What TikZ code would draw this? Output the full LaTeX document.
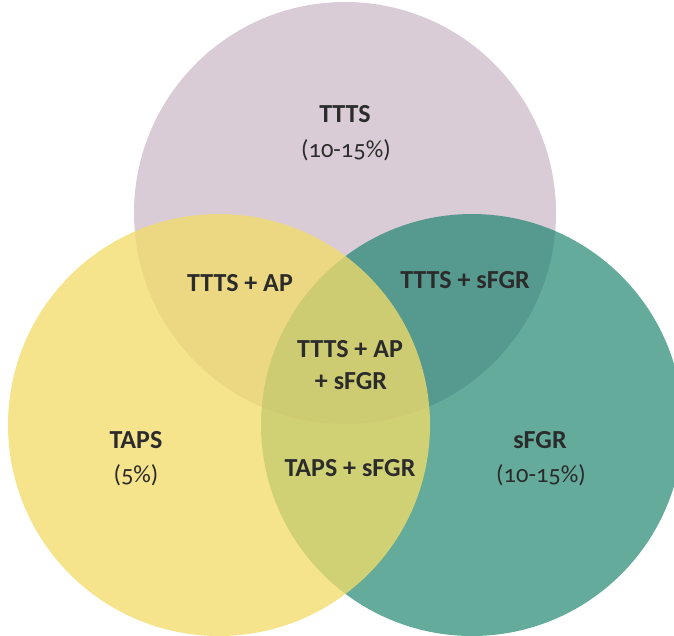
\documentclass[tikz,border=0pt]{standalone}
\usepackage{fontspec}
\setmainfont{Carlito}[Numbers=OldStyle]
\definecolor{mauve}{HTML}{D9CCD6}
\definecolor{teal}{RGB}{19,128,105}
\definecolor{sun}{RGB}{242,220,106}
\definecolor{ink}{HTML}{2B2B2B}
\tikzset{
    venn/.style = {circle, minimum size = 422pt, inner sep = 0pt},
    lbl/.style = {text = ink, font = \fontsize{26}{30}\selectfont\bfseries},
    pct/.style = {text = ink, font = \fontsize{24.5}{28}\selectfont}
}

\begin{document}
\begin{tikzpicture}[x = 1pt, y = -1pt]
    \useasboundingbox (0, 0) rectangle (674, 636);

    \node[venn, fill = mauve] (ttts) at (345, 213) {};
    \node[venn, fill = teal, fill opacity = 0.66] (sfgr) at (472, 425) {};
    \node[venn, fill = sun, fill opacity = 0.77] (taps) at (219, 425) {};

    \node[lbl] (tttsname) at (345, 114) {TTTS};
    \node[pct] (tttspct) at (346, 150) {(10-15\%)};
    \node[lbl] (tttsap) at (240, 283) {TTTS + AP};
    \node[lbl] (tttssfgr) at (465, 280) {TTTS + sFGR};
    \node[lbl] (all1) at (350, 349) {TTTS + AP};
    \node[lbl] (all2) at (351, 381) {+ sFGR};
    \node[lbl] (tapsname) at (136, 440) {TAPS};
    \node[pct] (tapspct) at (136, 475) {(5\%)};
    \node[lbl] (tapssfgr) at (350, 468) {TAPS + sFGR};
    \node[lbl] (sfgrname) at (540, 440) {sFGR};
    \node[pct] (sfgrpct) at (541, 475) {(10-15\%)};
\end{tikzpicture}
\end{document}
